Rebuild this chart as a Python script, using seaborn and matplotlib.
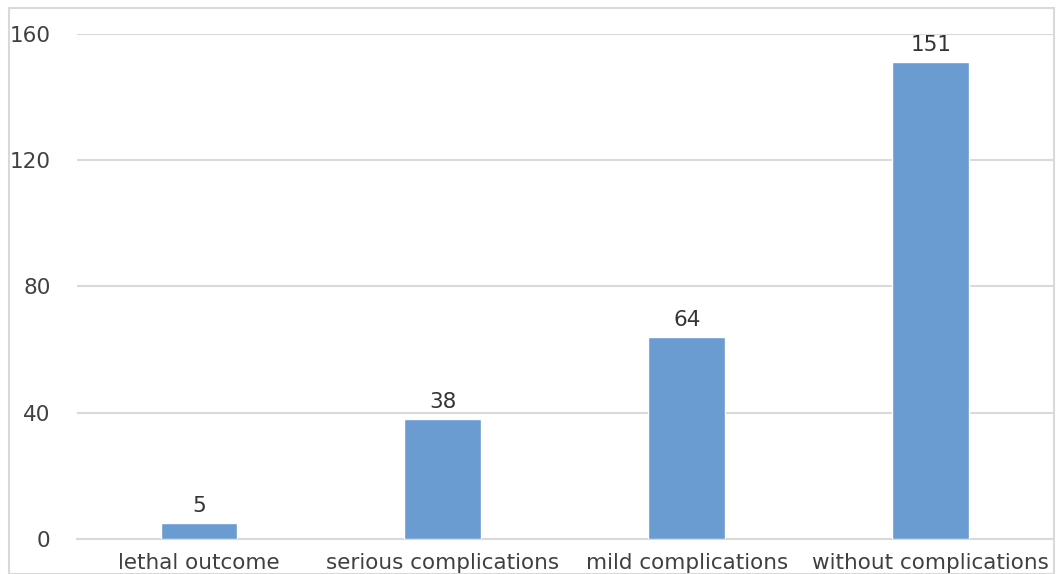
import matplotlib
matplotlib.use("Agg")
import matplotlib.pyplot as plt
import seaborn as sns
import pandas as pd

categories = ["lethal outcome", "serious complications", "mild complications", "without complications"]
values = [5, 38, 64, 151]
yticks = [0, 40, 80, 120, 160]

sns.set_theme(style="white")
plt.rcParams['font.family'] = ['DejaVu Sans']

df = pd.DataFrame({"category": categories, "value": values})

fig = plt.figure(figsize=(10.56, 5.74), dpi=100)
ax = fig.add_axes([0.0729, 0.061, 0.924, 0.8798])

sns.barplot(data=df, x="category", y="value", color="#6A9BD1", width=0.315,
            saturation=1, ax=ax, zorder=3)

ax.set_ylim(0, 160)
ax.set_xlim(-0.5, 3.5)
ax.set_yticks(yticks)
ax.set_yticklabels([str(t) for t in yticks])
ax.yaxis.grid(True, color="#D9D9D9", linewidth=1.5, zorder=0)
ax.set_axisbelow(True)
for s in ["top", "right", "left"]:
    ax.spines[s].set_visible(False)
ax.spines["bottom"].set_color("#D9D9D9")
ax.spines["bottom"].set_linewidth(1.5)
ax.set_xlabel("")
ax.set_ylabel("")
ax.tick_params(axis="both", length=0, labelsize=15.5, labelcolor="#404040")
ax.tick_params(axis="y", pad=19)
ax.tick_params(axis="x", pad=10)

for c in ax.containers:
    ax.bar_label(c, labels=[str(v) for v in values], padding=5, fontsize=15.5,
                 color="#333333")

# figure border
fig.patches.append(plt.Rectangle((0.0085, 0.0), 0.99, 0.986, transform=fig.transFigure,
                                 fill=False, edgecolor="#D9D9D9", linewidth=1.5))

fig.savefig("out.png", dpi=100, facecolor="white")
